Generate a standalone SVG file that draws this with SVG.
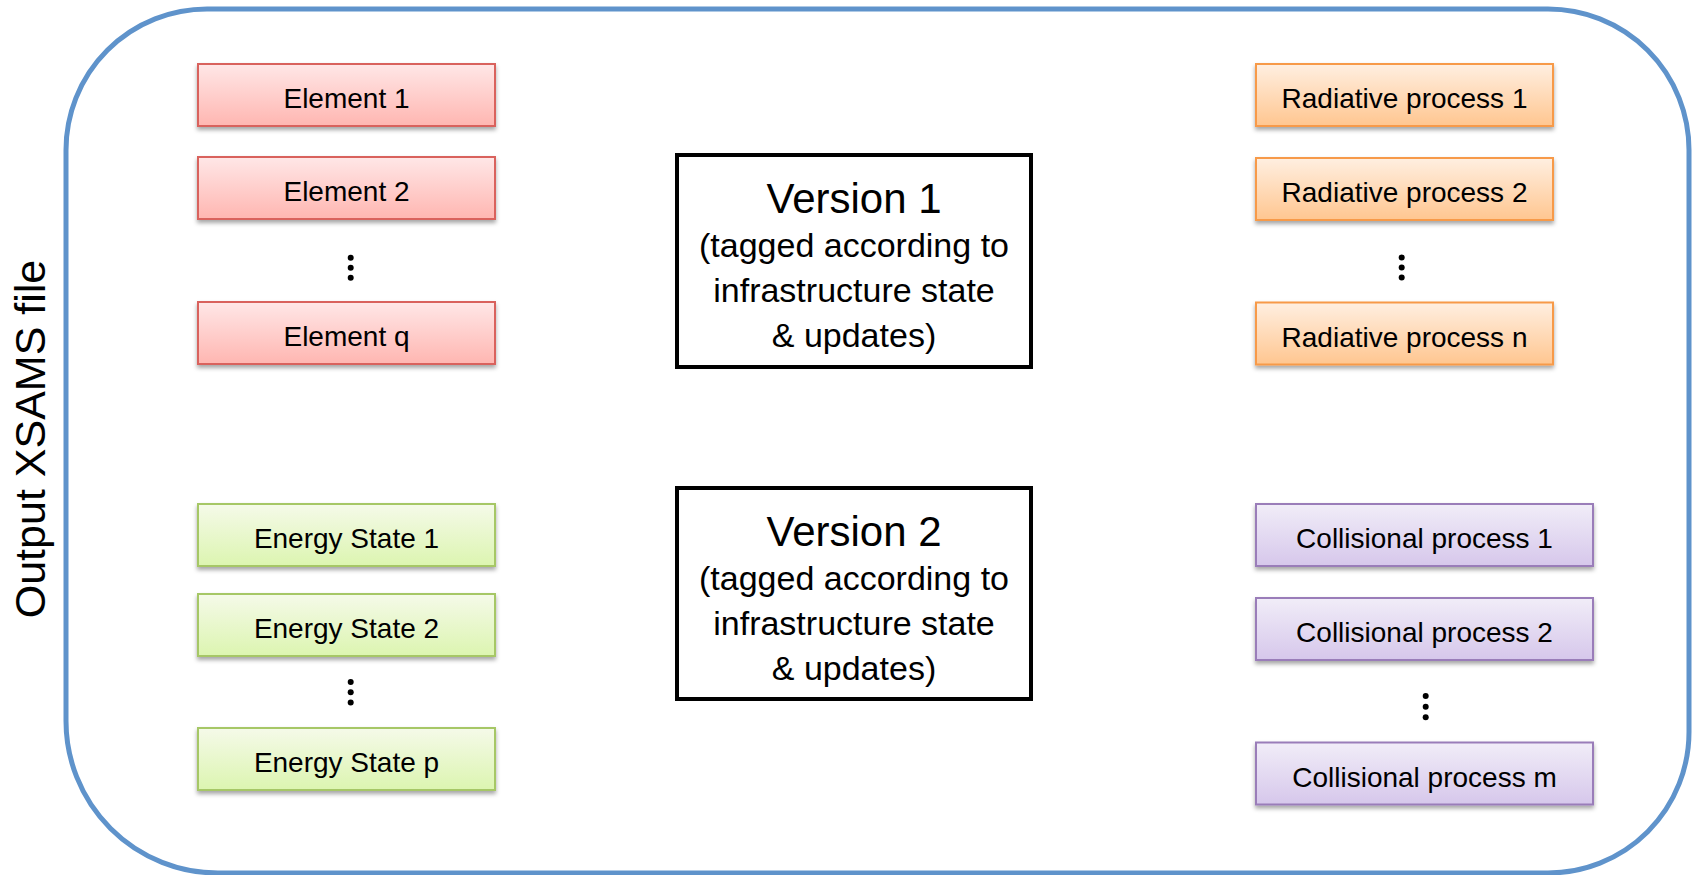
<svg xmlns="http://www.w3.org/2000/svg" width="1692" height="875" viewBox="0 0 1692 875">
  <defs>
    <linearGradient id="gRed" x1="0" y1="0" x2="0" y2="1">
      <stop offset="0" stop-color="#FFE7E7"/>
      <stop offset="1" stop-color="#FFB6B1"/>
    </linearGradient>
    <linearGradient id="gOrange" x1="0" y1="0" x2="0" y2="1">
      <stop offset="0" stop-color="#FFEFE1"/>
      <stop offset="1" stop-color="#FFC690"/>
    </linearGradient>
    <linearGradient id="gGreen" x1="0" y1="0" x2="0" y2="1">
      <stop offset="0" stop-color="#F5FAE9"/>
      <stop offset="1" stop-color="#DCF5B0"/>
    </linearGradient>
    <linearGradient id="gPurple" x1="0" y1="0" x2="0" y2="1">
      <stop offset="0" stop-color="#F1EDF8"/>
      <stop offset="1" stop-color="#D6C7EB"/>
    </linearGradient>
    <filter id="shadow" x="-10%" y="-20%" width="120%" height="160%">
      <feDropShadow dx="0" dy="3" stdDeviation="2.2" flood-color="#000" flood-opacity="0.35"/>
    </filter>
  </defs>
  <style>
    .lbl { font-family: "Liberation Sans", Arial, sans-serif; font-size: 28px; fill: #000; text-anchor: middle; }
    .red { fill: url(#gRed); stroke: #D9625D; stroke-width: 2; filter: url(#shadow); }
    .orange { fill: url(#gOrange); stroke: #F79A48; stroke-width: 2; filter: url(#shadow); }
    .green { fill: url(#gGreen); stroke: #A6C766; stroke-width: 2; filter: url(#shadow); }
    .purple { fill: url(#gPurple); stroke: #9A7DB9; stroke-width: 2; filter: url(#shadow); }
    .ver { fill: #fff; stroke: #000; stroke-width: 4; }
    .vt { font-family: "Liberation Sans", Arial, sans-serif; font-size: 42px; fill: #000; text-anchor: middle; }
    .vs { font-family: "Liberation Sans", Arial, sans-serif; font-size: 34px; fill: #000; text-anchor: middle; }
    .dot { fill: #000; }
    .outer { fill: none; stroke: #5F93CB; stroke-width: 5; }
  </style>
  <rect width="1692" height="875" fill="#fff"/>

  <g id="container">
    <path class="outer" d="M 207 9 L 1548 9 A 141 141 0 0 1 1689 150 L 1689 732 A 141 141 0 0 1 1548 873 L 218 873 A 152 152 0 0 1 66 721 L 66 150 A 141 141 0 0 1 207 9 Z"/>
    <text x="45" y="439" transform="rotate(-90 45 439)" font-family="'Liberation Sans', Arial, sans-serif" font-size="43" text-anchor="middle" fill="#000">Output XSAMS file</text>
  </g>

  <g id="connectors"></g>

  <g id="element-1"><rect class="red" x="198" y="64" width="297" height="62"/><text class="lbl" x="346.5" y="108">Element 1</text></g>
  <g id="element-2"><rect class="red" x="198" y="157" width="297" height="62"/><text class="lbl" x="346.5" y="201">Element 2</text></g>
  <g id="element-dots"><circle class="dot" cx="350.7" cy="257.7" r="3"/><circle class="dot" cx="350.7" cy="267.7" r="3"/><circle class="dot" cx="350.7" cy="277.7" r="3"/></g>
  <g id="element-q"><rect class="red" x="198" y="302" width="297" height="62"/><text class="lbl" x="346.5" y="346">Element q</text></g>

  <g id="energy-1"><rect class="green" x="198" y="504" width="297" height="62"/><text class="lbl" x="346.5" y="548">Energy State 1</text></g>
  <g id="energy-2"><rect class="green" x="198" y="594" width="297" height="62"/><text class="lbl" x="346.5" y="638">Energy State 2</text></g>
  <g id="energy-dots"><circle class="dot" cx="350.7" cy="682" r="3"/><circle class="dot" cx="350.7" cy="692.3" r="3"/><circle class="dot" cx="350.7" cy="702.5" r="3"/></g>
  <g id="energy-p"><rect class="green" x="198" y="728" width="297" height="62"/><text class="lbl" x="346.5" y="772">Energy State p</text></g>

  <g id="version-1">
    <rect class="ver" x="677" y="155" width="354" height="212"/>
    <text class="vt" x="854" y="213">Version 1</text>
    <text class="vs" x="854" y="257">(tagged according to</text>
    <text class="vs" x="854" y="302">infrastructure state</text>
    <text class="vs" x="854" y="347">&amp; updates)</text>
  </g>
  <g id="version-2">
    <rect class="ver" x="677" y="488" width="354" height="211"/>
    <text class="vt" x="854" y="546">Version 2</text>
    <text class="vs" x="854" y="590">(tagged according to</text>
    <text class="vs" x="854" y="635">infrastructure state</text>
    <text class="vs" x="854" y="680">&amp; updates)</text>
  </g>

  <g id="radiative-1"><rect class="orange" x="1256" y="64" width="297" height="62"/><text class="lbl" x="1404.5" y="108">Radiative process 1</text></g>
  <g id="radiative-2"><rect class="orange" x="1256" y="158" width="297" height="62"/><text class="lbl" x="1404.5" y="202">Radiative process 2</text></g>
  <g id="radiative-dots"><circle class="dot" cx="1401.7" cy="257.5" r="3"/><circle class="dot" cx="1401.7" cy="267.5" r="3"/><circle class="dot" cx="1401.7" cy="277.5" r="3"/></g>
  <g id="radiative-n"><rect class="orange" x="1256" y="302.5" width="297" height="62"/><text class="lbl" x="1404.5" y="346.5">Radiative process n</text></g>

  <g id="collisional-1"><rect class="purple" x="1256" y="504" width="337" height="62"/><text class="lbl" x="1424.5" y="548">Collisional process 1</text></g>
  <g id="collisional-2"><rect class="purple" x="1256" y="598" width="337" height="62"/><text class="lbl" x="1424.5" y="642">Collisional process 2</text></g>
  <g id="collisional-dots"><circle class="dot" cx="1425.7" cy="696" r="3"/><circle class="dot" cx="1425.7" cy="706.7" r="3"/><circle class="dot" cx="1425.7" cy="717.3" r="3"/></g>
  <g id="collisional-m"><rect class="purple" x="1256" y="742.5" width="337" height="62"/><text class="lbl" x="1424.5" y="786.5">Collisional process m</text></g>
</svg>
